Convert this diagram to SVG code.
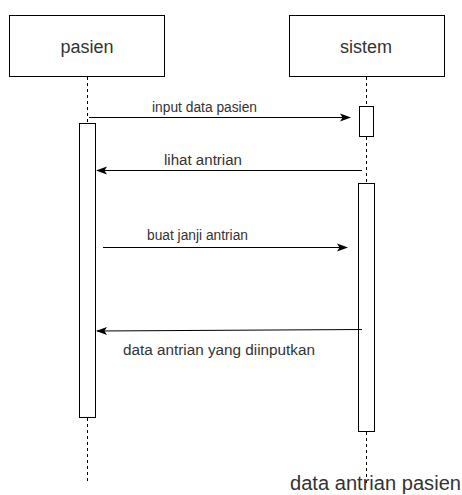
<svg xmlns="http://www.w3.org/2000/svg" width="462" height="495" viewBox="0 0 462 495">
  <defs>
    <style>
      .box { fill: #ffffff; stroke: #000000; stroke-width: 1; }
      .life { stroke: #000000; stroke-width: 1; stroke-dasharray: 3 3; fill: none; }
      .msg { stroke: #000000; stroke-width: 1.2; fill: none; marker-end: url(#arrow); }
      .title { font-family: "Liberation Sans", Arial, sans-serif; font-size: 18px; fill: #333333; text-anchor: middle; }
      .label { font-family: "Liberation Sans", Arial, sans-serif; font-size: 14px; fill: #333333; }
      .note { font-family: "Liberation Sans", Arial, sans-serif; font-size: 20px; fill: #333333; }
    </style>
    <marker id="arrow" viewBox="0 0 11 10" refX="10" refY="5" markerWidth="11" markerHeight="10" markerUnits="userSpaceOnUse" orient="auto">
      <path d="M0,1 L11,5 L0,9 L2.5,5 Z" fill="#000000"/>
    </marker>
  </defs>

  <rect width="462" height="495" fill="#ffffff"/>

  <!-- lifeline: pasien -->
  <g id="pasien">
    <rect class="box" x="9.5" y="15.5" width="155" height="61"/>
    <text class="title" x="87" y="53">pasien</text>
    <line class="life" x1="87.5" y1="77" x2="87.5" y2="123"/>
    <rect class="box" x="79.5" y="123.5" width="16" height="294"/>
    <line class="life" x1="87.5" y1="418" x2="87.5" y2="481"/>
  </g>

  <!-- lifeline: sistem -->
  <g id="sistem">
    <rect class="box" x="289.5" y="15.5" width="155" height="61"/>
    <text class="title" x="366" y="53">sistem</text>
    <line class="life" x1="366.5" y1="77" x2="366.5" y2="106"/>
    <rect class="box" x="359.5" y="106.5" width="14" height="30"/>
    <line class="life" x1="366.5" y1="137" x2="366.5" y2="183"/>
    <rect class="box" x="358.5" y="183.5" width="16" height="248"/>
    <line class="life" x1="366.5" y1="432" x2="366.5" y2="483"/>
  </g>

  <!-- messages -->
  <g id="connectors">
    <line class="msg" x1="89" y1="117.5" x2="350" y2="117.5"/>
    <line class="msg" x1="362" y1="170.5" x2="97" y2="170.5"/>
    <line class="msg" x1="103" y1="247.5" x2="347" y2="247.5"/>
    <line class="msg" x1="362" y1="329.5" x2="97" y2="331"/>
  </g>

  <!-- message labels -->
  <g id="labels">
    <text class="label" x="152" y="112" textLength="105" lengthAdjust="spacingAndGlyphs">input data pasien</text>
    <text class="label" x="164" y="165" textLength="78" lengthAdjust="spacingAndGlyphs">lihat antrian</text>
    <text class="label" x="147" y="240" textLength="101" lengthAdjust="spacingAndGlyphs">buat janji antrian</text>
    <text class="label" x="123" y="355" textLength="192" lengthAdjust="spacingAndGlyphs">data antrian yang diinputkan</text>
    <text class="note" x="290" y="490" textLength="171" lengthAdjust="spacingAndGlyphs">data antrian pasien</text>
  </g>
</svg>
